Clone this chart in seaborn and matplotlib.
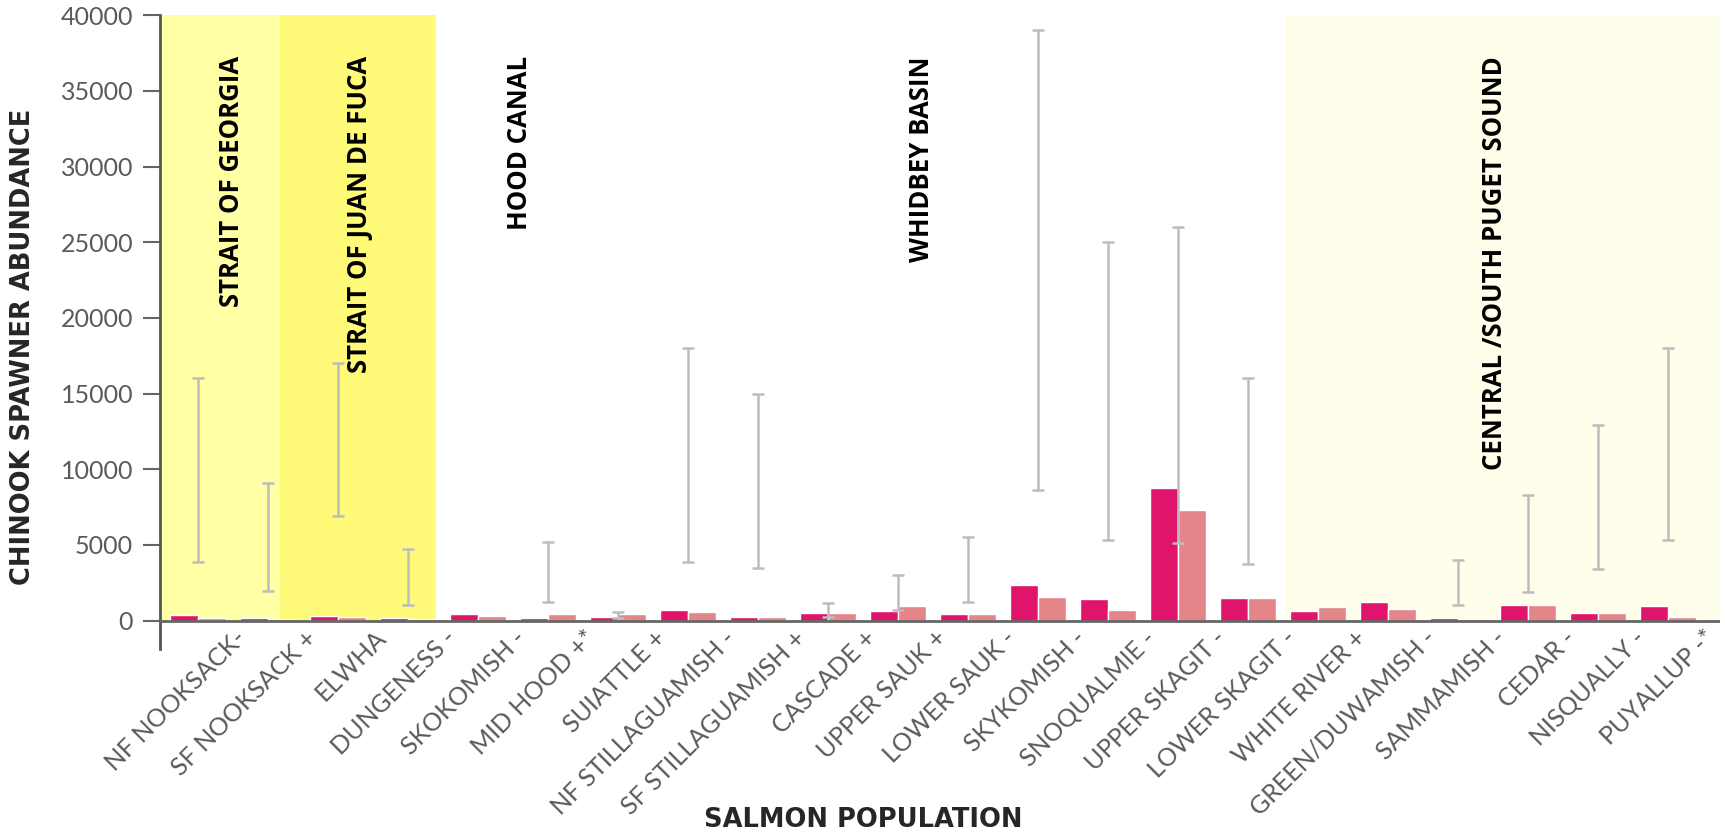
import matplotlib
matplotlib.use("Agg")
import matplotlib.pyplot as plt
import matplotlib.transforms as mtransforms
import seaborn as sns
import pandas as pd
import numpy as np

# Populations (signs/asterisks are part of the population labels)
populations = [
    "NF NOOKSACK-", "SF NOOKSACK +", "ELWHA", "DUNGENESS -", "SKOKOMISH -",
    "MID HOOD +*", "SUIATTLE +", "NF STILLAGUAMISH -", "SF STILLAGUAMISH +",
    "CASCADE +", "UPPER SAUK +", "LOWER SAUK -", "SKYKOMISH -", "SNOQUALMIE -",
    "UPPER SKAGIT -", "LOWER SKAGIT -", "WHITE RIVER +", "GREEN/DUWAMISH -",
    "SAMMAMISH -", "CEDAR -", "NISQUALLY -", "PUYALLUP -*",
]

# Spawner abundance, two periods
period_1 = [350, 140, 330, 140, 440, 150, 270, 690, 270, 470, 660, 440,
            2330, 1450, 8740, 1500, 630, 1200, 140, 1010, 490, 960]
period_2 = [150, 100, 220, 80, 330, 440, 440, 550, 250, 470, 960, 440,
            1560, 690, 7320, 1500, 930, 740, 110, 1010, 490, 270]

# Planning target ranges (None where no range is given)
target_low = [3850, 1950, 6900, 1050, None, 1200, 200, 3900, 3500, 270, 690, 1230,
              8600, 5300, 5100, 3750, None, None, 1010, 1900, 3400, 5300]
target_high = [16000, 9100, 17000, 4700, None, 5200, 600, 18000, 15000, 1150, 3000, 5500,
               39000, 25000, 26000, 16000, None, None, 4030, 8300, 12900, 18000]

# Regions: labels, label x positions, and shaded spans (start, end, colour)
region_names = ["STRAIT OF GEORGIA", "STRAIT OF JUAN DE FUCA", "HOOD CANAL",
                "WHIDBEY BASIN", "CENTRAL /SOUTH PUGET SOUND"]
region_label_x = [0.48, 2.30, 4.59, 10.33, 18.52]
region_spans = [(-0.556, 1.16, "#FFFFA6"), (1.16, 3.40, "#FFFA78"), (15.54, 21.75, "#FFFEEA")]

period_colors = ["#E0146A", "#E38589"]

df = pd.DataFrame({
    "population": populations * 2,
    "abundance": period_1 + period_2,
    "period": ["period 1"] * len(populations) + ["period 2"] * len(populations),
})

sns.set_style("white")
plt.rcParams["font.family"] = ["Lato", "DejaVu Sans"]

fig = plt.figure(figsize=(17.25, 8.32), dpi=100)
ax = fig.add_axes([159.5 / 1725, 1 - 649 / 832, (1720 - 159.5) / 1725, (649 - 15.3) / 832])

for x0, x1, col in region_spans:
    ax.fill_betweenx([0, 40000], x0, x1, color=col, lw=0, zorder=0)

sns.barplot(data=df, x="population", y="abundance", hue="period",
            palette=period_colors, saturation=1, width=0.8, gap=0,
            errorbar=None, legend=False, ax=ax, zorder=2)

# Target ranges drawn as capped vertical lines
xs, mids, half = [], [], []
for i, (lo, hi) in enumerate(zip(target_low, target_high)):
    if lo is None:
        continue
    xs.append(i)
    mids.append((lo + hi) / 2)
    half.append((hi - lo) / 2)
ax.errorbar(xs, mids, yerr=half, fmt="none", ecolor="#BDBDBD",
            elinewidth=1.8, capsize=4.5, capthick=1.8, zorder=3)

ax.axhline(0, color="#666666", lw=2, zorder=4)

ax.set_xlim(-0.556, 21.75)
ax.set_ylim(-1877, 40000)
ax.set_yticks(np.arange(0, 40001, 5000))
ax.set_yticklabels([str(v) for v in range(0, 40001, 5000)])

for s in ["top", "right", "bottom"]:
    ax.spines[s].set_visible(False)
ax.spines["left"].set_color("#555555")
ax.spines["left"].set_linewidth(2)

ax.tick_params(axis="y", direction="out", length=12, width=1.5, color="#666666",
               labelsize=18, labelcolor="#5a5a5a", pad=7, left=True)
ax.tick_params(axis="x", length=0, labelsize=18, labelcolor="#5a5a5a", pad=-10)
shift = mtransforms.ScaledTranslation(0.36, 0.09, fig.dpi_scale_trans)
for lab in ax.get_xticklabels():
    lab.set_rotation(45)
    lab.set_ha("right")
    lab.set_rotation_mode("anchor")
    lab.set_transform(lab.get_transform() + shift)

ax.set_xlabel("")
ax.set_ylabel("")

for name, xpos in zip(region_names, region_label_x):
    ax.text(xpos, 37300, name, rotation=90, ha="center", va="top",
            fontsize=18.5, fontweight="bold", family=["Open Sans", "DejaVu Sans"],
            color="black", zorder=5)

fig.text(23 / 1725, 1 - 347 / 832, "CHINOOK SPAWNER ABUNDANCE", rotation=90,
         ha="center", va="center", fontsize=18.5, fontweight="bold", family=["DejaVu Sans"])
fig.text(863 / 1725, 1 - 820 / 832, "SALMON POPULATION", ha="center", va="center",
         fontsize=18.5, fontweight="bold", family=["DejaVu Sans"])

fig.savefig("out.png", dpi=100)
